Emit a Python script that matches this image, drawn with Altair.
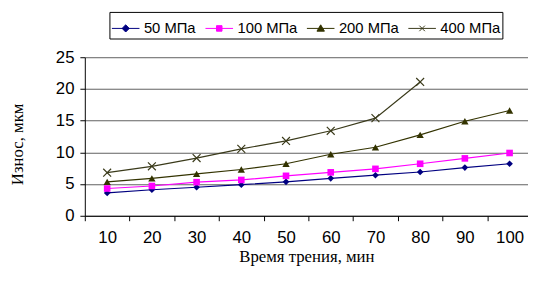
import altair as alt
import pandas as pd

times = [10, 20, 30, 40, 50, 60, 70, 80, 90, 100]
series = ["50 МПа", "100 МПа", "200 МПа", "400 МПа"]
s50 = [3.6, 4.1, 4.5, 4.9, 5.35, 5.9, 6.4, 6.9, 7.6, 8.2]
s100 = [4.3, 4.7, 5.3, 5.65, 6.3, 6.85, 7.4, 8.2, 9.05, 9.9]
s200 = [5.35, 5.9, 6.6, 7.3, 8.2, 9.7, 10.8, 12.75, 14.9, 16.6]
s400 = [6.8, 7.8, 9.1, 10.55, 11.8, 13.4, 15.4, 21.1]
colors = ["#000080", "#FF00FF", "#333300", "#3A3A1A"]
tick_values = [5, 15, 25, 35, 45, 55, 65, 75, 85, 95]
y_ticks = [0, 5, 10, 15, 20, 25]

rows = []
for name, vals in zip(series, [s50, s100, s200, s400]):
    for t, v in zip(times, vals):
        rows.append({"series": name, "t": t, "v": v})
df = pd.DataFrame(rows)
leg_df = pd.DataFrame({"series": series, "t": [50] * 4, "v": [-50] * 4})

W = 450
H = 161
step_px = 4.54
xdom = [5, 5 + W / step_px]

x = alt.X("t:Q", scale=alt.Scale(domain=xdom, nice=False, zero=False),
          axis=alt.Axis(values=tick_values, labelExpr="datum.value + 5",
                        labelOffset=22.7, labelFlush=False, grid=False, tickSize=5,
                        labelPadding=9, titlePadding=3),
          title="Время трения, мин")
y = alt.Y("v:Q", scale=alt.Scale(domain=[0, 25], nice=False),
          axis=alt.Axis(values=y_ticks, grid=True, gridColor="#606060",
                        tickSize=5, labelPadding=6, titlePadding=29, titleY=88),
          title="Износ, мкм")

marker_specs = [
    ("diamond", True, 45),
    ("square", True, 45),
    ("triangle-up", True, 55),
    ("M-1,-1L1,1M-1,1L1,-1", False, 64),
]
layers = []
for name, col in zip(series, colors):
    layers.append(
        alt.Chart(df).transform_filter(alt.datum.series == name)
        .mark_line(strokeWidth=1.2, color=col).encode(x=x, y=y)
    )
for name, col, (shape, filled, size) in zip(series, colors, marker_specs):
    layers.append(
        alt.Chart(df).transform_filter(alt.datum.series == name).mark_point(
            shape=shape, filled=filled, size=size, color=col, opacity=1,
            strokeWidth=1.2,
        ).encode(x=x, y=y)
    )

leg_paths = [
    "M-1,0H1M0,-0.26L0.26,0L0,0.26L-0.26,0Z",
    "M-1,0H1M-0.2,-0.2H0.2V0.2H-0.2Z",
    "M-1,0H1M0,-0.26L0.27,0.2H-0.27Z",
    "M-1,0H1M-0.2,-0.2L0.2,0.2M-0.2,0.2L0.2,-0.2",
]
legend = alt.Legend(orient="none", legendX=25, legendY=-46, direction="horizontal",
                    title=None, strokeColor="black", fillColor="white", padding=2,
                    symbolSize=784, symbolStrokeWidth=1, labelFont="Liberation Sans",
                    labelFontSize=15, labelColor="black", labelOffset=4,
                    columnPadding=7, symbolOpacity=1)
leg_layer = alt.Chart(leg_df).mark_point(filled=True, clip=True).encode(
    x=x, y=y,
    shape=alt.Shape("series:N", scale=alt.Scale(domain=series, range=leg_paths), legend=legend),
    fill=alt.Fill("series:N", scale=alt.Scale(domain=series, range=colors), legend=legend),
    stroke=alt.Stroke("series:N", scale=alt.Scale(domain=series, range=colors), legend=legend),
)
layers.append(leg_layer)

chart = alt.layer(*layers).properties(
    width=W, height=H,
    padding={"left": 1, "top": 1, "right": 0, "bottom": 0},
).configure_view(stroke=None).configure_axis(
    domainColor="black", tickColor="black", labelColor="black", titleColor="black",
    labelFont="Liberation Sans", labelFontSize=17, titleFont="Liberation Serif",
    titleFontSize=17, titleFontWeight="normal", domainWidth=1, tickWidth=1,
)

chart.save("out.html", embed_options={"renderer": "svg", "actions": False})
